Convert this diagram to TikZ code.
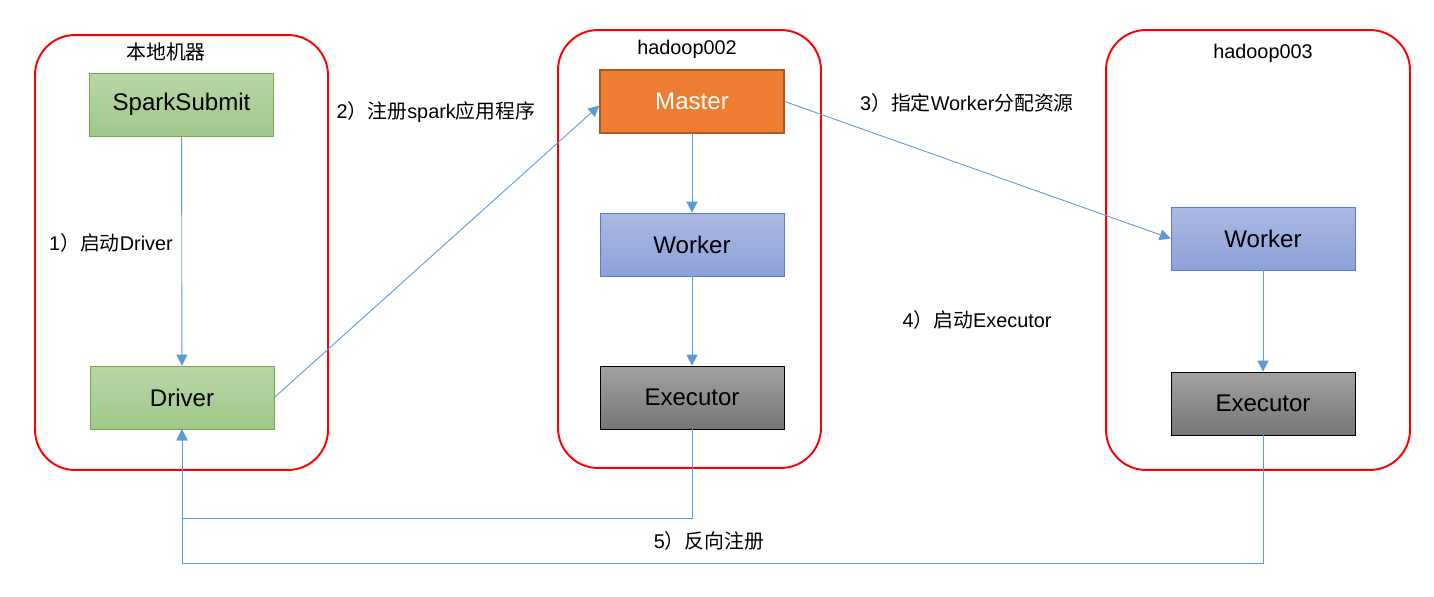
\documentclass[tikz,border=0pt]{standalone}
\usepackage{fontspec}
\setmainfont{Liberation Sans}
\newfontfamily\cjk{Noto Sans CJK SC}
\newcommand{\zh}[1]{{\cjk #1}}
\definecolor{HostRed}{RGB}{255,0,0}
\definecolor{LinkBlue}{RGB}{91,155,213}
\definecolor{GreenTop}{RGB}{183,215,166}
\definecolor{GreenBot}{RGB}{160,200,138}
\definecolor{GreenLine}{RGB}{112,173,71}
\definecolor{MasterFill}{RGB}{237,125,49}
\definecolor{MasterLine}{RGB}{174,90,33}
\definecolor{BlueTop}{RGB}{171,185,226}
\definecolor{BlueBot}{RGB}{140,162,215}
\definecolor{BlueLine}{RGB}{90,125,200}
\definecolor{GreyTop}{RGB}{162,162,162}
\definecolor{GreyBot}{RGB}{118,118,118}
\usetikzlibrary{positioning,arrows.meta}
\tikzset{
  host/.style={draw=HostRed,line width=1.1pt,rounded corners=0.8cm},
  box/.style={minimum width=3.68cm,minimum height=1.26cm,align=center,font=\fontsize{13.7}{16}\selectfont},
  gbox/.style={box,draw=GreenLine,top color=GreenTop,bottom color=GreenBot},
  mbox/.style={box,draw=MasterLine,line width=0.8pt,fill=MasterFill,text=white},
  wbox/.style={box,draw=BlueLine,top color=BlueTop,bottom color=BlueBot},
  ebox/.style={box,draw=black,top color=GreyTop,bottom color=GreyBot},
  lbl/.style={font=\fontsize{11.3}{14}\selectfont,inner sep=1pt},
  arrow/.style={-{Triangle[length=2.2mm,width=2.2mm]},draw=LinkBlue,line width=0.5pt},
}
\begin{document}
\begin{tikzpicture}[x=0.02cm,y=-0.02cm]
  \useasboundingbox (0,0) rectangle (1434,597);
  % hosts
  \node[host,minimum width=5.86cm,minimum height=8.7cm] (loc) at (181.5,252.5) {};
  \node[host,minimum width=5.26cm,minimum height=8.76cm] (h2) at (689.5,249) {};
  \node[host,minimum width=6.08cm,minimum height=8.8cm] (h3) at (1258,250) {};
  \node[lbl] (locname) at (166,52) {\zh{本地机器}};
  \node[lbl] (h2name) at (687,49) {hadoop002};
  \node[lbl] (h3name) at (1263,53) {hadoop003};
  % boxes
  \node[gbox] (submit) at (181.5,104.5) {SparkSubmit};
  \node[gbox] (driver) at (182,397.5) {Driver};
  \node[mbox] (master) at (692,101.5) {Master};
  \node[wbox,below=1.58cm of master] (w2) {Worker};
  \node[ebox] (e2) at (692,397.5) {Executor};
  \node[wbox] (w3) at (1263,238.5) {Worker};
  \node[ebox] (e3) at (1263,403.5) {Executor};
  % links
  \draw[arrow] (submit) -- (driver);
  \draw[arrow] (driver.east) -- ([yshift=-0.08cm]master.west);
  \draw[arrow] (master.east) -- (w3.west);
  \draw[arrow] (master) -- (w2);
  \draw[arrow] (w2) -- (e2);
  \draw[arrow] (w3) -- (e3);
  \draw[arrow] (e2.south) -- ++(0,89) -| (driver.south);
  \draw[arrow] (e3.south) -- ++(0,128) -| (driver.south);
  % step labels
  \node[lbl] (s1) at (111,243) {1\zh{）启动}Driver};
  \node[lbl] (s2) at (436,112) {2\zh{）注册}spark\zh{应用程序}};
  \node[lbl] (s3) at (967,103) {3\zh{）指定}Worker\zh{分配资源}};
  \node[lbl] (s4) at (977,320) {4\zh{）启动}Executor};
  \node[lbl] (s5) at (709,541) {5\zh{）反向注册}};
\end{tikzpicture}
\end{document}
